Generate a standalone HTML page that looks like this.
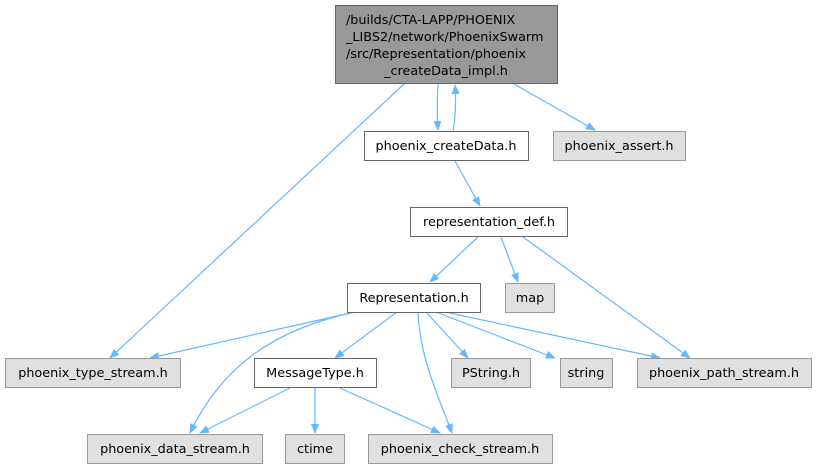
<!DOCTYPE html>
<html><head><meta charset="utf-8"><style>body{margin:0;background:#fff}svg{display:block}text{font-family:"DejaVu Sans",sans-serif;font-size:12.8px;fill:#000}</style></head><body>
<svg width="817" height="468" viewBox="0 0 817 468" xmlns="http://www.w3.org/2000/svg">
<defs><marker id="a" markerWidth="10" markerHeight="8" refX="9" refY="4" orient="auto" markerUnits="userSpaceOnUse"><path d="M0,0 L10,4 L0,8 z" fill="#63b8ff"/></marker></defs>
<g stroke="#63b8ff" stroke-width="1.2" fill="none" marker-end="url(#a)">
<path d="M404,84 L110,358"/>
<path d="M438,84 C437,100 437,115 438,130"/>
<path d="M453,131 C456,115 456,100 455,85"/>
<path d="M514,84 L595,130"/>
<path d="M455,161 L480,206"/>
<path d="M478,237 L430,282"/>
<path d="M501,237 L518,282"/>
<path d="M523,237 L690,358"/>
<path d="M355,312 L150,358"/>
<path d="M355,312 C270,330 220,370 190,433"/>
<path d="M397,312 L335,358"/>
<path d="M418,312 C420,360 440,400 452,433"/>
<path d="M426,312 L468,358"/>
<path d="M436,312 L555,358"/>
<path d="M445,312 L660,358"/>
<path d="M290,388 L200,433"/>
<path d="M315,388 L315,433"/>
<path d="M340,388 L440,433"/>
</g>
<g stroke-width="1">
<rect x="335.5" y="5.5" width="222" height="78" fill="#999" stroke="#666"/>
<rect x="364.5" y="131.5" width="164" height="29" fill="#fff" stroke="#666"/>
<rect x="553.5" y="131.5" width="132" height="29" fill="#e0e0e0" stroke="#999"/>
<rect x="410.5" y="207.5" width="157" height="29" fill="#fff" stroke="#666"/>
<rect x="347.5" y="283.5" width="133" height="29" fill="#fff" stroke="#666"/>
<rect x="505.5" y="283.5" width="49" height="29" fill="#e0e0e0" stroke="#999"/>
<rect x="5.5" y="358.5" width="175" height="29" fill="#e0e0e0" stroke="#999"/>
<rect x="254.5" y="358.5" width="122" height="29" fill="#fff" stroke="#666"/>
<rect x="451.5" y="358.5" width="79" height="29" fill="#e0e0e0" stroke="#999"/>
<rect x="560.5" y="358.5" width="52" height="29" fill="#e0e0e0" stroke="#999"/>
<rect x="637.5" y="358.5" width="174" height="29" fill="#e0e0e0" stroke="#999"/>
<rect x="87.5" y="434.5" width="175" height="29" fill="#e0e0e0" stroke="#999"/>
<rect x="285.5" y="434.5" width="59" height="29" fill="#e0e0e0" stroke="#999"/>
<rect x="368.5" y="434.5" width="184" height="29" fill="#e0e0e0" stroke="#999"/>
</g>
<text x="346" y="24">/builds/CTA-LAPP/PHOENIX</text>
<text x="346" y="41">_LIBS2/network/PhoenixSwarm</text>
<text x="346" y="58">/src/Representation/phoenix</text>
<text x="446" y="75" text-anchor="middle">_createData_impl.h</text>
<g text-anchor="middle">
<text x="446" y="150">phoenix_createData.h</text>
<text x="619" y="150">phoenix_assert.h</text>
<text x="489" y="226">representation_def.h</text>
<text x="414" y="302">Representation.h</text>
<text x="530" y="302">map</text>
<text x="93" y="377">phoenix_type_stream.h</text>
<text x="315" y="377">MessageType.h</text>
<text x="491" y="377">PString.h</text>
<text x="586" y="377">string</text>
<text x="724" y="377">phoenix_path_stream.h</text>
<text x="175" y="453">phoenix_data_stream.h</text>
<text x="315" y="453">ctime</text>
<text x="460" y="453">phoenix_check_stream.h</text>
</g>
</svg>
</body></html>
